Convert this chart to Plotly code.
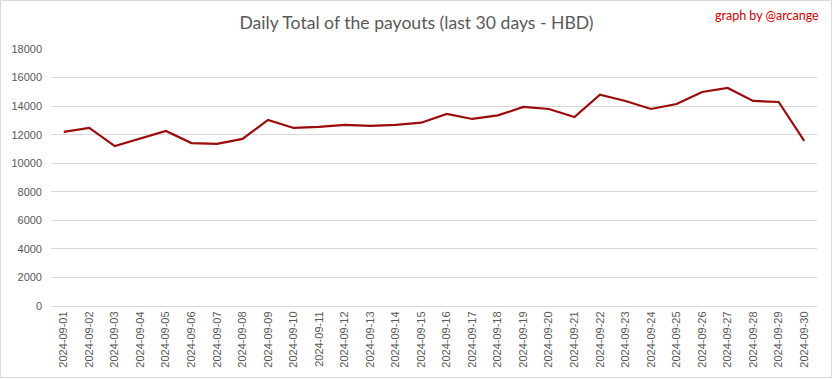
import plotly.graph_objects as go

dates = [f"2024-09-{d:02d}" for d in range(1, 31)]
payouts = [12190, 12470, 11200, 11740, 12260, 11410, 11350, 11700, 13030, 12470,
           12540, 12680, 12610, 12680, 12840, 13450, 13100, 13350, 13940, 13800,
           13240, 14800, 14360, 13800, 14150, 14990, 15270, 14360, 14290, 11560]
y_ticks = [0, 2000, 4000, 6000, 8000, 10000, 12000, 14000, 16000, 18000]
y_labels = [str(v) for v in y_ticks]

W, H = 833, 379
ml, mr, mt, mb = 51, 16, 49, 73
pw, ph = W - ml - mr, H - mt - mb

fig = go.Figure()
fig.add_trace(go.Scatter(
    x=dates, y=payouts, mode="lines",
    line=dict(color="#9c0a0a", width=2.2),
    hoverinfo="x+y",
))

fig.update_layout(
    width=W, height=H,
    margin=dict(l=ml, r=mr, t=mt, b=mb, autoexpand=False),
    paper_bgcolor="white", plot_bgcolor="white",
    showlegend=False,
    title=dict(text="Daily Total of the payouts (last 30 days - HBD)",
               x=0.5, xanchor="center", y=1 - 23 / H, yanchor="middle",
               font=dict(family="Lato, Open Sans, sans-serif", size=17.6, color="#595959")),
    xaxis=dict(type="category", tickangle=-90, showgrid=False, automargin=False,
               showline=True, linecolor="#d9d9d9", linewidth=1,
               ticks="", tickfont=dict(family="Liberation Sans, Arial", size=11, color="#595959"),
               range=[-0.5, len(dates) - 0.5]),
    yaxis=dict(range=[0, 18000], tickvals=y_ticks, ticktext=y_labels, showgrid=True,
               gridcolor="#d9d9d9", automargin=False,
               gridwidth=1, zeroline=False, showline=False, ticks="",
               tickfont=dict(family="Liberation Sans, Arial", size=11, color="#595959"),
               ticklabelstandoff=8),
)

fig.add_annotation(text="graph by @arcange", xref="paper", yref="paper",
                   x=1 + (821 - (W - mr)) / pw, xanchor="right", xshift=0,
                   y=1 + (mt - 15) / ph, yanchor="middle", showarrow=False,
                   font=dict(family="Lato, Open Sans, sans-serif", size=12.5, color="#cc0000"))

fig.add_shape(type="rect", xref="paper", yref="paper",
              x0=-(ml - 0.5) / pw, x1=1 + (mr - 1.5) / pw,
              y0=-(mb - 1.5) / ph, y1=1 + (mt - 0.5) / ph,
              line=dict(color="#d9d9d9", width=1), fillcolor="rgba(0,0,0,0)", layer="above")

fig.write_html("out.html", config={"displayModeBar": False},
               post_script="document.body.style.margin='0';document.body.style.overflow='hidden';")
